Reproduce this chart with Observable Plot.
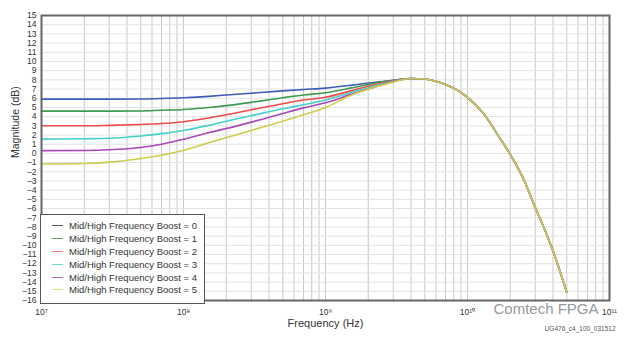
<!DOCTYPE html>
<html>
<head>
<meta charset="utf-8">
<script src="https://cdn.jsdelivr.net/npm/d3@7"></script>
<script src="https://cdn.jsdelivr.net/npm/@observablehq/plot@0.6"></script>
<style>
  html, body { margin: 0; padding: 0; background: white; }
  #wrap { position: relative; width: 624px; height: 344px; font-family: "Liberation Sans", Arial, sans-serif; }
  #legend { position: absolute; left: 40px; top: 214px; width: 163px; height: 84px; border: 1.5px solid #555; background: white; padding-top: 4px; box-sizing: content-box; }
  .row { display: flex; align-items: center; height: 12.9px; font-size: 9.5px; line-height: 11px; color: #333; }
  .sw { width: 11px; height: 0; border-top: 1.6px solid; margin-left: 11px; margin-right: 6px; }
</style>
</head>
<body>
<div id="wrap"></div>
<script>
// Frequencies (Hz)
const freqsLow = [1e7, 2e7, 3e7, 5e7, 7e7, 1e8, 1.5e8, 2e8, 3e8, 5e8, 7e8, 1e9, 1.5e9, 2e9, 3e9];
// Magnitude (dB) for each boost setting at freqsLow
const boost0 = [5.9, 5.9, 5.9, 5.92, 5.97, 6.05, 6.2, 6.35, 6.55, 6.8, 6.95, 7.1, 7.4, 7.65, 7.95];
const boost1 = [4.6, 4.6, 4.6, 4.62, 4.7, 4.78, 5.0, 5.2, 5.55, 6.05, 6.35, 6.6, 7.1, 7.5, 7.95];
const boost2 = [3.0, 3.0, 3.05, 3.15, 3.25, 3.45, 3.85, 4.2, 4.75, 5.4, 5.8, 6.1, 6.8, 7.3, 7.9];
const boost3 = [1.55, 1.6, 1.65, 1.9, 2.15, 2.5, 3.05, 3.5, 4.1, 4.85, 5.3, 5.8, 6.6, 7.15, 7.85];
const boost4 = [0.3, 0.32, 0.4, 0.65, 1.0, 1.55, 2.25, 2.7, 3.4, 4.35, 4.95, 5.5, 6.4, 7.0, 7.8];
const boost5 = [-1.15, -1.1, -0.95, -0.55, -0.2, 0.35, 1.15, 1.7, 2.5, 3.5, 4.2, 5.0, 6.3, 7.0, 7.75];
// Shared roll-off (all settings coincide)
const freqsHigh = [4e9, 5e9, 6e9, 7e9, 8e9, 1e10, 1.3e10, 1.7e10, 2e10, 2.5e10, 3e10, 3.5e10, 4e10, 4.5e10, 5e10];
const tail = [8.15, 8.1, 7.85, 7.5, 7.1, 6.1, 4.3, 1.6, -0.1, -2.9, -5.9, -8.3, -10.6, -12.9, -15.1];

const seriesNames = ["Mid/High Frequency Boost = 0", "Mid/High Frequency Boost = 1", "Mid/High Frequency Boost = 2",
                     "Mid/High Frequency Boost = 3", "Mid/High Frequency Boost = 4", "Mid/High Frequency Boost = 5"];
const seriesColors = ["#3d5db5", "#3e9a4c", "#f04a4a", "#45d0cc", "#a947b8", "#cccc4e"];
const legendColors = ["#555a66", "#5f9a6a", "#f07a86", "#6fd8cc", "#a86ab8", "#dede80"];

const decades = [1e7, 1e8, 1e9, 1e10, 1e11];
const decadeLabels = ["10\u2077", "10\u2078", "10\u2079", "10\u00b9\u2070", "10\u00b9\u00b9"];
const yTicks = [15,14,13,12,11,10,9,8,7,6,5,4,3,2,1,0,-1,-2,-3,-4,-5,-6,-7,-8,-9,-10,-11,-12,-13,-14,-15,-16];

const minorFreqs = [];
for (const d of [1e7, 1e8, 1e9, 1e10]) for (let k = 1; k <= 9; k++) minorFreqs.push(d * k);

const allSeries = [boost0, boost1, boost2, boost3, boost4, boost5];
const rows = [];
allSeries.forEach((vals, s) => {
  freqsLow.forEach((f, i) => rows.push({s: seriesNames[s], f, v: vals[i]}));
  freqsHigh.forEach((f, i) => rows.push({s: seriesNames[s], f, v: tail[i]}));
});

const chart = Plot.plot({
  width: 624, height: 344,
  marginLeft: 41, marginRight: 15, marginTop: 15, marginBottom: 44,
  style: {fontFamily: "'Liberation Sans', Arial, sans-serif", fontSize: "10px", color: "#333", background: "white"},
  x: {type: "log", domain: [1e7, 1e11], axis: null},
  y: {domain: [-16, 15], axis: null},
  color: {domain: seriesNames, range: seriesColors},
  marks: [
    Plot.ruleX(minorFreqs, {stroke: "#c8c8c8", strokeWidth: 1}),
    Plot.ruleY(yTicks, {stroke: "#e2e2e2", strokeWidth: 1}),
    Plot.line(rows, {x: "f", y: "v", z: "s", stroke: "s", strokeWidth: 1.6, curve: "monotone-x"}),
    Plot.frame({stroke: "#666", strokeWidth: 2}),
    Plot.axisY(yTicks, {tickSize: 0, tickPadding: 5, fontSize: 8.6, fill: "#333", label: null}),
    Plot.axisX(decades, {tickSize: 0, tickPadding: 8, fontSize: 8.5, fill: "#333", label: null, tickFormat: (d) => decadeLabels[decades.indexOf(d)]}),
    Plot.text(["Frequency (Hz)"], {frameAnchor: "bottom", dy: 26, fontSize: 11, fill: "#333"}),
    Plot.text(["Magnitude (dB)"], {frameAnchor: "left", dx: -26, rotate: -90, fontSize: 10.5, fill: "#333"}),
    Plot.text(["UG476_c4_100_031512"], {frameAnchor: "bottom-right", dx: 6, dy: 30, textAnchor: "end", fontSize: 6.5, fill: "#555"}),
    Plot.text(["Comtech FPGA"], {frameAnchor: "bottom-right", dx: -11, dy: 13, textAnchor: "end", fontSize: 15, fill: "#999", stroke: "white", strokeWidth: 3, paintOrder: "stroke"})
  ]
});

const wrap = document.getElementById("wrap");
wrap.appendChild(chart);

const legend = document.createElement("div");
legend.id = "legend";
seriesNames.forEach((name, i) => {
  const row = document.createElement("div");
  row.className = "row";
  const sw = document.createElement("span");
  sw.className = "sw";
  sw.style.borderTopColor = legendColors[i];
  row.appendChild(sw);
  const t = document.createElement("span");
  t.textContent = name;
  row.appendChild(t);
  legend.appendChild(row);
});
wrap.appendChild(legend);
</script>
</body>
</html>
